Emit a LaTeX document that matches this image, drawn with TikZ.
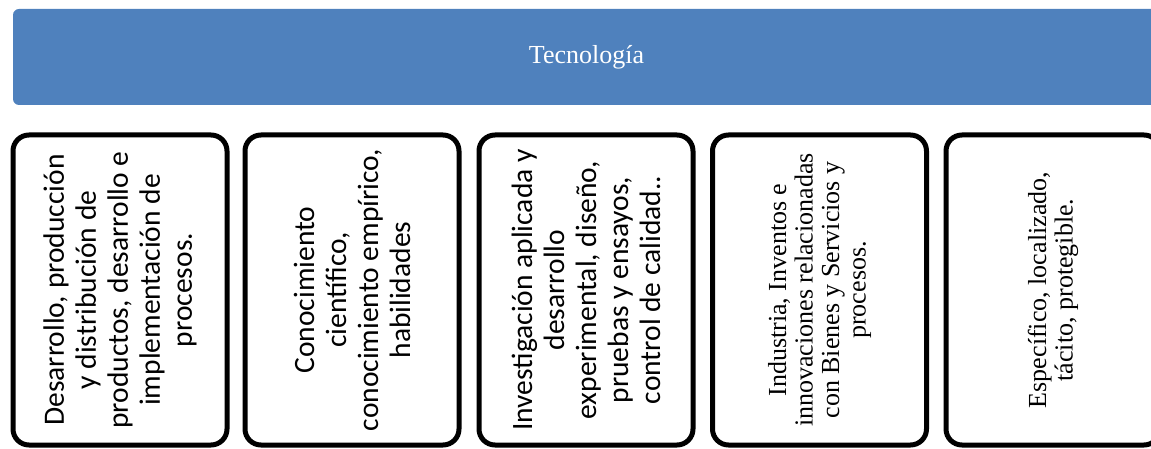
\documentclass[tikz,border=0pt]{standalone}
\usepackage{fontspec}
\setmainfont{Liberation Serif}
\newfontfamily\cajafont{Carlito}
\definecolor{azultec}{RGB}{79,129,189}

\begin{document}
\begin{tikzpicture}[x=1pt,y=-1pt]
    \tikzstyle{cajas}=[draw, line width=5pt, rounded corners=16pt, rotate=90, minimum width=310pt, minimum height=214pt, inner sep=0pt, align=center]
    \tikzstyle{sans}=[font=\cajafont\fontsize{29.5}{32}\selectfont]
    \tikzstyle{serif}=[font=\fontsize{26}{26.5}\selectfont]

    \useasboundingbox (0,0) rectangle (1151,449);
    \clip (0,0) rectangle (1151,449);

    \node[fill=azultec, text=white, rounded corners=6pt, minimum width=1147pt, minimum height=96pt, font=\fontsize{26}{30}\selectfont] (tec) at (586.5,57) {Tecnología};

    \node[cajas, sans] (c1) at (120,290) {Desarrollo, producción\\y distribución de\\productos, desarrollo e\\implementación de\\procesos.};
    \node[cajas, sans] (c2) at (352,290) {Conocimiento\\científico,\\conocimiento empírico,\\habilidades};
    \node[cajas, sans] (c3) at (586,290) {Investigación aplicada y\\desarrollo\\experimental, diseño,\\pruebas y ensayos,\\control de calidad..};
    \node[cajas, serif] (c4) at (819.5,290) {Industria, Inventos e\\innovaciones relacionadas\\con Bienes y Servicios y\\procesos.};
    \node[cajas, serif] (c5) at (1053,290) {Específico, localizado,\\tácito, protegible.};

\end{tikzpicture}
\end{document}
